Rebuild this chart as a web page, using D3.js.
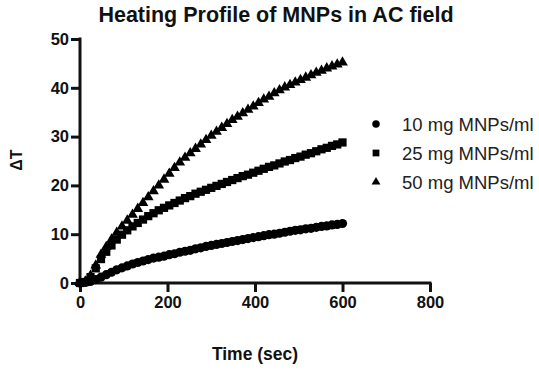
<!DOCTYPE html>
<html>
<head>
<meta charset="utf-8">
<script src="https://cdn.jsdelivr.net/npm/d3@7"></script>
<style>
  html, body { margin: 0; padding: 0; background: #fff; }
  svg { display: block; }
</style>
</head>
<body>
<svg id="chart" width="539" height="370"></svg>
<script>
const title = "Heating Profile of MNPs in AC field";
const xLabel = "Time (sec)";
const yLabel = "ΔT";
const xTicks = [0, 200, 400, 600, 800];
const yTicks = [0, 10, 20, 30, 40, 50];
const seriesNames = ["10 mg MNPs/ml", "25 mg MNPs/ml", "50 mg MNPs/ml"];

const time = [0,12,24,36,48,60,72,84,96,108,120,132,144,156,168,180,192,204,216,228,240,252,264,276,288,300,312,324,336,348,360,372,384,396,408,420,432,444,456,468,480,492,504,516,528,540,552,564,576,588,600];

const mg10 = [0,0.1,0.3,0.7,1.2,1.7,2.2,2.7,3.1,3.5,3.9,4.2,4.5,4.8,5.1,5.3,5.5,5.8,6.0,6.3,6.5,6.7,7.0,7.2,7.5,7.7,7.9,8.1,8.3,8.5,8.7,8.9,9.1,9.3,9.5,9.7,9.9,10.0,10.2,10.4,10.6,10.8,10.9,11.1,11.2,11.4,11.6,11.7,11.9,12.0,12.2];

const mg25 = [0,0.2,1.2,3.0,4.9,6.4,7.7,8.9,9.9,10.8,11.6,12.3,13.0,13.7,14.3,14.9,15.4,15.9,16.4,16.9,17.4,17.8,18.3,18.7,19.1,19.5,19.9,20.3,20.7,21.1,21.5,21.9,22.2,22.6,23.0,23.4,23.8,24.1,24.5,24.9,25.2,25.6,25.9,26.3,26.6,27.0,27.4,27.7,28.1,28.4,28.8];

const mg50 = [0,0.3,1.5,3.6,5.8,7.4,8.9,10.3,11.6,12.8,14.0,15.2,16.4,17.6,18.8,20.0,21.2,22.4,23.6,24.7,25.7,26.6,27.5,28.4,29.3,30.2,31.0,31.8,32.6,33.4,34.1,34.8,35.5,36.2,36.9,37.6,38.2,38.9,39.5,40.1,40.6,41.1,41.6,42.1,42.6,43.1,43.5,44.0,44.4,44.8,45.2];

const seriesValues = [mg10, mg25, mg50];
const symbolTypes = [d3.symbolCircle, d3.symbolSquare, d3.symbolTriangle];
const symbolSizes = [66, 68, 50];
const legendSizes = [44, 46, 34];

const svg = d3.select("#chart");
const font = "'Liberation Sans', Arial, Helvetica, sans-serif";

const x = d3.scaleLinear().domain([0, 800]).range([80, 430]);
const y = d3.scaleLinear().domain([0, 50]).range([283, 39]);

// Title
svg.append("text")
  .attr("x", 276).attr("y", 22)
  .attr("text-anchor", "middle")
  .attr("font-family", font).attr("font-weight", "bold").attr("font-size", 21.5)
  .attr("fill", "#111")
  .text(title);

// Axes
const xAxis = svg.append("g")
  .attr("transform", `translate(0,${y(0)})`)
  .call(d3.axisBottom(x).tickValues(xTicks).tickSize(9).tickPadding(4).tickFormat(d3.format("d")));
const yAxis = svg.append("g")
  .attr("transform", `translate(${x(0)},0)`)
  .call(d3.axisLeft(y).tickValues(yTicks).tickSize(9).tickPadding(2).tickFormat(d3.format("d")));

[xAxis, yAxis].forEach(g => {
  g.select(".domain").attr("stroke", "#111").attr("stroke-width", 3).attr("stroke-linecap", "square");
  g.selectAll(".tick line").attr("stroke", "#111").attr("stroke-width", 3);
  g.selectAll(".tick text")
    .attr("font-family", font).attr("font-weight", "bold").attr("font-size", 16.5).attr("fill", "#111");
});
xAxis.select(".domain").attr("d", `M${x(0)},0H${x(800)}`);
yAxis.select(".domain").attr("d", `M0,${y(0)}V${y(50)}`);

// Axis labels
svg.append("text")
  .attr("x", 255).attr("y", 360)
  .attr("text-anchor", "middle")
  .attr("font-family", font).attr("font-weight", "bold").attr("font-size", 17.5)
  .attr("fill", "#111")
  .text(xLabel);

svg.append("text")
  .attr("transform", "translate(22,160) rotate(-90)")
  .attr("text-anchor", "middle")
  .attr("font-family", font).attr("font-weight", "bold").attr("font-size", 16)
  .attr("fill", "#111")
  .text(yLabel);

// Points
seriesValues.forEach((vals, si) => {
  const sym = d3.symbol().type(symbolTypes[si]).size(symbolSizes[si]);
  svg.append("g").selectAll("path")
    .data(time.map((t, i) => [t, vals[i]]))
    .join("path")
    .attr("d", sym)
    .attr("transform", d => `translate(${x(d[0])},${y(d[1])})`)
    .attr("fill", "#000");
});

// Legend
const legendY = [124, 153, 182];
seriesNames.forEach((name, si) => {
  svg.append("path")
    .attr("d", d3.symbol().type(symbolTypes[si]).size(legendSizes[si])())
    .attr("transform", `translate(376,${legendY[si]})`)
    .attr("fill", "#000");
  svg.append("text")
    .attr("x", 402).attr("y", legendY[si] + 6.5)
    .attr("font-family", font).attr("font-size", 18.5)
    .attr("fill", "#222")
    .text(name);
});
</script>
</body>
</html>
